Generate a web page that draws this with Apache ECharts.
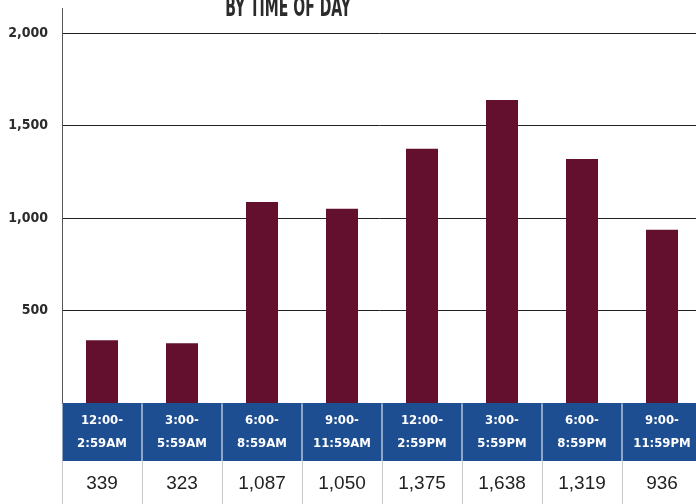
<!DOCTYPE html>
<html>
<head>
<meta charset="utf-8">
<script src="https://cdn.jsdelivr.net/npm/echarts@6/dist/echarts.min.js"></script>
<style>
html,body{margin:0;padding:0;background:#fff;}
#chart{width:696px;height:504px;}
</style>
</head>
<body>
<div id="chart"></div>
<script>
const chartTitle = 'BY TIME OF DAY';
const categories = ['12:00-\n2:59AM','3:00-\n5:59AM','6:00-\n8:59AM','9:00-\n11:59AM','12:00-\n2:59PM','3:00-\n5:59PM','6:00-\n8:59PM','9:00-\n11:59PM'];
const counts = [339, 323, 1087, 1050, 1375, 1638, 1319, 936];
const yMin = 0, yMax = 2000, yInterval = 500;

const fmt = v => v.toLocaleString('en-US');
const valueLabels = counts.map(fmt);
const narrow = '"Liberation Sans Narrow", "DejaVu Sans Condensed", sans-serif';

const chart = echarts.init(document.getElementById('chart'), null, {renderer: 'canvas'});
chart.setOption({
  animation: false,
  backgroundColor: '#fff',
  grid: {left: 62, right: -6, top: 33, bottom: 101, containLabel: false, outerBoundsMode: 'none'},
  xAxis: [
    {
      type: 'category', data: categories, position: 'bottom',
      axisLine: {show: true, lineStyle: {color: '#bbbbbb'}},
      axisTick: {show: false},
      axisLabel: {
        interval: 0, margin: 0, color: '#ffffff', fontFamily: narrow, fontWeight: 'bold',
        fontSize: 13, lineHeight: 23, backgroundColor: '#1d4e91', width: 79, align: 'center',
        padding: [6, 0, 6, 0]
      }
    },
    {
      type: 'category', data: valueLabels, position: 'bottom', offset: 58,
      axisLine: {show: false},
      axisTick: {show: true, interval: 0, length: 45, lineStyle: {color: '#c9c9c9'}},
      axisLabel: {interval: 0, margin: 13, color: '#222', fontFamily: '"Liberation Sans", Arial, sans-serif', fontSize: 19, lineHeight: 20}
    }
  ],
  yAxis: {
    type: 'value', min: yMin, max: yMax, interval: yInterval,
    axisLine: {show: true, lineStyle: {color: '#555'}},
    axisTick: {show: false},
    splitLine: {show: true, showMinLine: false, lineStyle: {color: '#222'}},
    axisLabel: {
      formatter: v => v === 0 ? '' : fmt(v), margin: 14, color: '#2b2b2b',
      fontFamily: narrow, fontWeight: 'bold', fontSize: 14
    }
  },
  series: [{
    type: 'bar', data: counts, xAxisIndex: 0, barWidth: 32,
    itemStyle: {color: '#63102f'}
  }],
  graphic: [
    {type: 'text', x: 288, y: 9.5, scaleX: 0.6,
     style: {text: chartTitle, x: 0, y: 0, textAlign: 'center', textVerticalAlign: 'middle',
             font: 'bold 26px "Liberation Sans Narrow", "DejaVu Sans Condensed", sans-serif', fill: '#2b2b2b'}},
    {type: 'line', shape: {x1: 62.5, y1: 8, x2: 62.5, y2: 33}, style: {stroke: '#555', lineWidth: 1}}
  ]
});
</script>
</body>
</html>
